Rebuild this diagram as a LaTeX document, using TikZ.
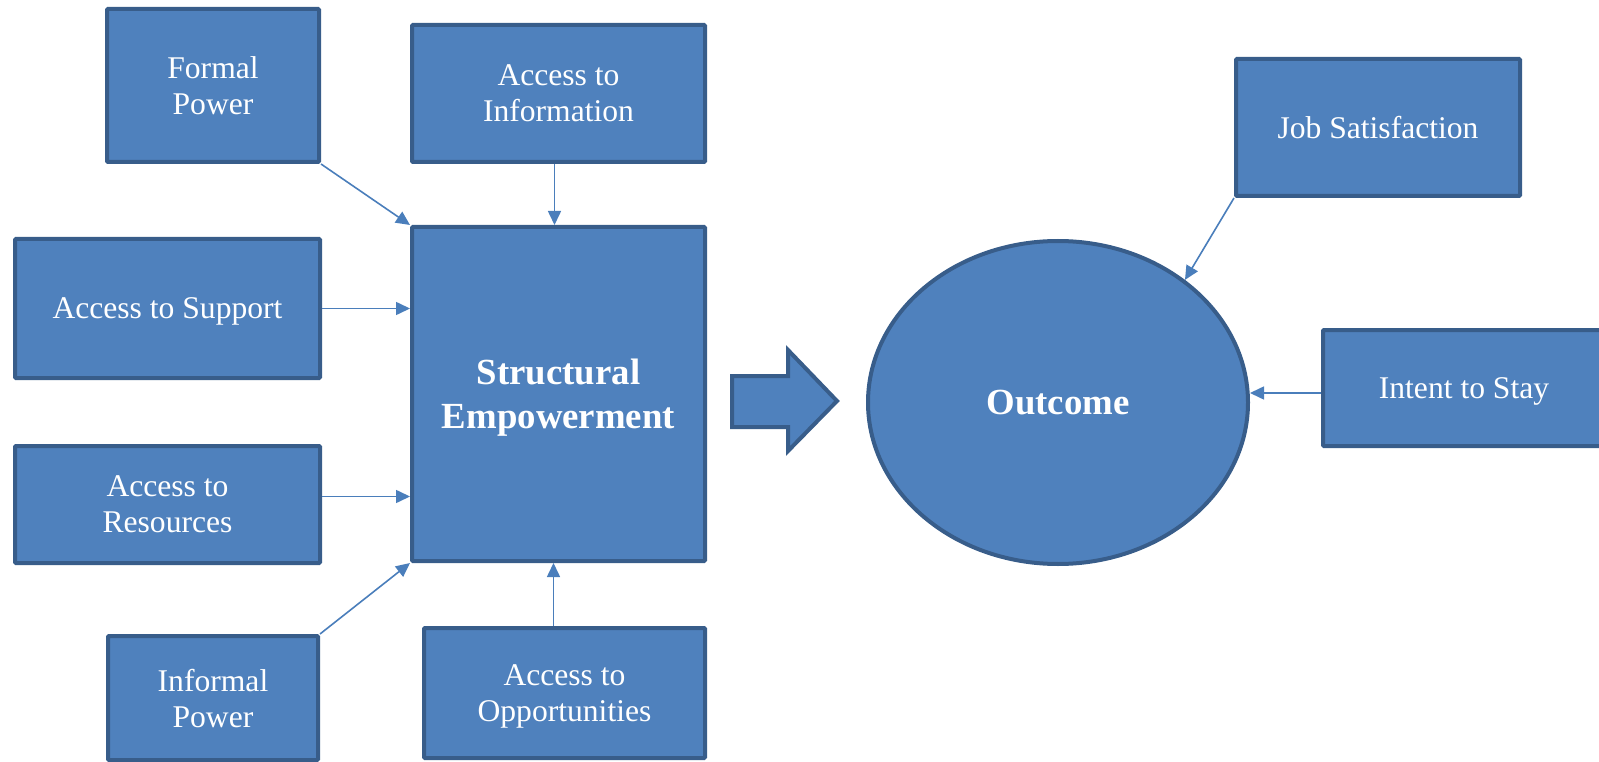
\documentclass[tikz,border=0pt]{standalone}
\usepackage{fontspec}
\setmainfont{Liberation Serif}
\usetikzlibrary{arrows.meta,shapes.geometric}
\definecolor{boxfill}{HTML}{4F81BD}
\definecolor{boxline}{HTML}{385D8A}
\definecolor{linkcol}{HTML}{4A7EBB}
\tikzstyle{factor} = [draw=boxline, fill=boxfill, line width=4pt, rounded corners=1pt, text=white, align=center, text depth=0pt, font=\fontsize{31.6}{36}\selectfont]
\tikzstyle{core} = [factor, font=\fontsize{36.8}{44}\selectfont\bfseries]
\tikzstyle{link} = [draw=linkcol, line width=1.6pt, -{Triangle[length=14pt,width=13pt]}]

\begin{document}
\begin{tikzpicture}[x=1pt, y=-1pt]
  \useasboundingbox (0,0) rectangle (1599,762);
  \clip (0,0) rectangle (1599,762);

  \node[factor, minimum width=212, minimum height=153] (formal) at (213,85.5) {Formal\\Power};
  \node[factor, minimum width=293, minimum height=137] (info) at (558.5,93.5) {Access to\\Information};
  \node[factor, minimum width=305, minimum height=139] (support) at (167.5,308.5) {Access to Support};
  \node[factor, minimum width=305, minimum height=117] (resources) at (167.5,504.5) {Access to\\Resources};
  \node[factor, minimum width=210, minimum height=124] (informal) at (213,698) {Informal\\Power};
  \node[factor, minimum width=281, minimum height=130] (opport) at (564.5,693) {Access to\\Opportunities};
  \node[core, minimum width=293, minimum height=334] (main) at (558.5,394) {Structural\\Empowerment};

  \node[core, ellipse, minimum width=380, minimum height=323] (outcome) at (1058,402.5) {Outcome};
  \node[factor, minimum width=284, minimum height=137] (job) at (1378,127.5) {Job Satisfaction};
  \node[factor, minimum width=282, minimum height=116] (intent) at (1464,388) {Intent to Stay};

  \filldraw[draw=boxline, fill=boxfill, line width=4pt] (732,376) -- (788,376) -- (788,350) -- (837,401)
    -- (788,451) -- (788,427) -- (732,427) -- cycle;

  \draw[link] (formal.south east) -- (main.north west);
  \draw[link] ([xshift=-4pt]info.south) -- ([xshift=-4pt]info.south |- main.north);
  \draw[link] (support.east) -- (support.east -| main.west);
  \draw[link] ([yshift=8pt]resources.east) -- ([yshift=8pt]resources.east -| main.west);
  \draw[link] (informal.north east) -- (main.south west);
  \draw[link] ([xshift=-11pt]opport.north) -- ([xshift=-11pt]opport.north |- main.south);

  \draw[link] (job.south west) -- (outcome.44);
  \draw[link] ([yshift=-5pt]intent.west) -- ([yshift=-5pt]intent.west -| outcome.east);
\end{tikzpicture}
\end{document}
